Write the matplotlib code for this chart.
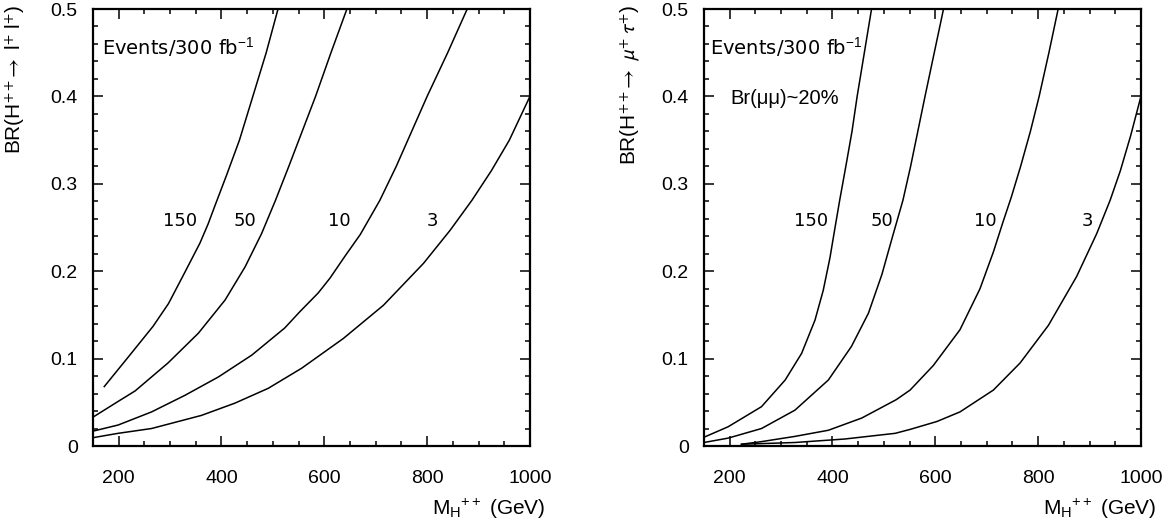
import numpy as np
import matplotlib
matplotlib.use("Agg")
import matplotlib.pyplot as plt
from matplotlib.ticker import MultipleLocator

plt.rcParams['font.family'] = ['Liberation Sans', 'DejaVu Sans']
plt.rcParams['mathtext.fontset'] = 'custom'
plt.rcParams['mathtext.rm'] = 'Liberation Sans'
plt.rcParams['mathtext.it'] = 'Liberation Sans:italic'
plt.rcParams['mathtext.bf'] = 'Liberation Sans:bold'
plt.rcParams['mathtext.fallback'] = 'stixsans'

# ---- left panel: H++ -> l+ l+ ----
l150_x = [172, 219, 267, 297, 329, 358, 374, 388, 410, 435, 461, 487, 510]
l150_y = [0.068, 0.102, 0.137, 0.163, 0.199, 0.232, 0.254, 0.276, 0.31, 0.35, 0.40, 0.45, 0.50]
l50_x = [150, 199, 232, 296, 355, 407, 446, 478, 505, 531, 557, 583, 613, 644]
l50_y = [0.033, 0.051, 0.063, 0.095, 0.129, 0.167, 0.205, 0.243, 0.281, 0.32, 0.36, 0.40, 0.45, 0.50]
l10_x = [150, 199, 264, 329, 394, 459, 523, 553, 588, 611, 640, 670, 708, 740, 770, 800, 840, 878]
l10_y = [0.017, 0.024, 0.039, 0.058, 0.079, 0.104, 0.135, 0.154, 0.175, 0.192,
         0.217, 0.242, 0.281, 0.32, 0.36, 0.40, 0.45, 0.50]
l3_x = [150, 199, 264, 361, 426, 491, 556, 637, 715, 793, 845, 887, 925, 960, 1000]
l3_y = [0.0095, 0.0145, 0.020, 0.035, 0.049, 0.066, 0.089, 0.123, 0.161, 0.209,
        0.247, 0.281, 0.315, 0.35, 0.400]

# ---- right panel: H++ -> mu+ tau+ ----
r150_x = [150, 197, 262, 308, 340, 366, 382, 395, 405, 414, 426, 438, 448, 462, 476]
r150_y = [0.010, 0.022, 0.045, 0.0755, 0.106, 0.144, 0.178, 0.215, 0.25, 0.281,
          0.32, 0.36, 0.40, 0.45, 0.50]
r50_x = [150, 197, 262, 327, 392, 437, 470, 496, 517, 537, 552, 566, 580, 598, 616]
r50_y = [0.004, 0.009, 0.020, 0.041, 0.0755, 0.114, 0.152, 0.196, 0.24, 0.281,
         0.32, 0.36, 0.40, 0.45, 0.50]
r10_x = [223, 262, 327, 392, 457, 524, 551, 596, 648, 687, 713, 731, 748, 766, 785, 802, 821, 839]
r10_y = [0.002, 0.005, 0.011, 0.018, 0.032, 0.053, 0.064, 0.092, 0.133, 0.18,
         0.222, 0.255, 0.285, 0.32, 0.36, 0.40, 0.45, 0.50]
r3_x = [223, 327, 424, 522, 551, 603, 648, 713, 765, 820, 875, 914, 940, 960, 980, 1000]
r3_y = [0.002, 0.004, 0.008, 0.0145, 0.019, 0.028, 0.039, 0.064, 0.095, 0.138,
        0.194, 0.243, 0.281, 0.315, 0.355, 0.400]

curve_labels = ['150', '50', '10', '3']
left_label_x = [319, 446, 629, 811]
right_label_x = [359, 496, 697, 896]
label_y = 0.258

fig = plt.figure(figsize=(11.75, 5.27), dpi=100)
axL = fig.add_axes([0.0791, 0.1537, 0.3719, 0.8292])
axR = fig.add_axes([0.5991, 0.1537, 0.3719, 0.8292])

left_curves = [(l150_x, l150_y), (l50_x, l50_y), (l10_x, l10_y), (l3_x, l3_y)]
right_curves = [(r150_x, r150_y), (r50_x, r50_y), (r10_x, r10_y), (r3_x, r3_y)]

for ax, curves, lab_x in [(axL, left_curves, left_label_x), (axR, right_curves, right_label_x)]:
    for (x, y) in curves:
        ax.plot(x, y, color='black', lw=1.1, solid_joinstyle='round')
    for t, lx in zip(curve_labels, lab_x):
        ax.text(lx, label_y, t, ha='center', va='center', fontsize=13,
                family='DejaVu Sans')
    ax.set_xlim(150, 1000)
    ax.set_ylim(0, 0.5)
    ax.xaxis.set_major_locator(MultipleLocator(200))
    ax.xaxis.set_minor_locator(MultipleLocator(50))
    ax.yaxis.set_major_locator(MultipleLocator(0.1))
    ax.yaxis.set_minor_locator(MultipleLocator(0.02))
    ax.set_yticks([0, 0.1, 0.2, 0.3, 0.4, 0.5])
    ax.set_yticklabels(['0', '0.1', '0.2', '0.3', '0.4', '0.5'])
    ax.tick_params(which='both', direction='in', top=True, right=True,
                   labelsize=14, width=1.1)
    ax.tick_params(which='major', length=7.5)
    ax.tick_params(which='minor', length=3.8)
    ax.tick_params(axis='x', which='major', pad=17)
    ax.tick_params(axis='y', which='major', pad=11)
    for s in ax.spines.values():
        s.set_linewidth(1.6)
    ax.text(1.035, -0.145, r'M$_{\mathrm{H}}$$^{++}$ (GeV)', transform=ax.transAxes,
            ha='right', va='center', fontsize=15)

axL.text(167, 0.457, r'Events/300 fb$^{-1}$', ha='left', va='center', fontsize=14,
         family='DejaVu Sans')
axR.text(161, 0.457, r'Events/300 fb$^{-1}$', ha='left', va='center', fontsize=14,
         family='DejaVu Sans')
axR.text(201, 0.398, 'Br(μμ)~20%', ha='left', va='center', fontsize=14.5)

axL.text(-0.178, 1.008, r'BR(H$^{++}\!\rightarrow$ l$^{+}$ l$^{+}$)', transform=axL.transAxes,
         rotation=90, ha='center', va='top', fontsize=15, math_fontfamily='stixsans')
axR.text(-0.169, 1.008, r'BR(H$^{++}\!\rightarrow\ \mu^{+}\ \tau^{+}$)', transform=axR.transAxes,
         rotation=90, ha='center', va='top', fontsize=15, math_fontfamily='stixsans')

fig.savefig('out.png', dpi=100)
